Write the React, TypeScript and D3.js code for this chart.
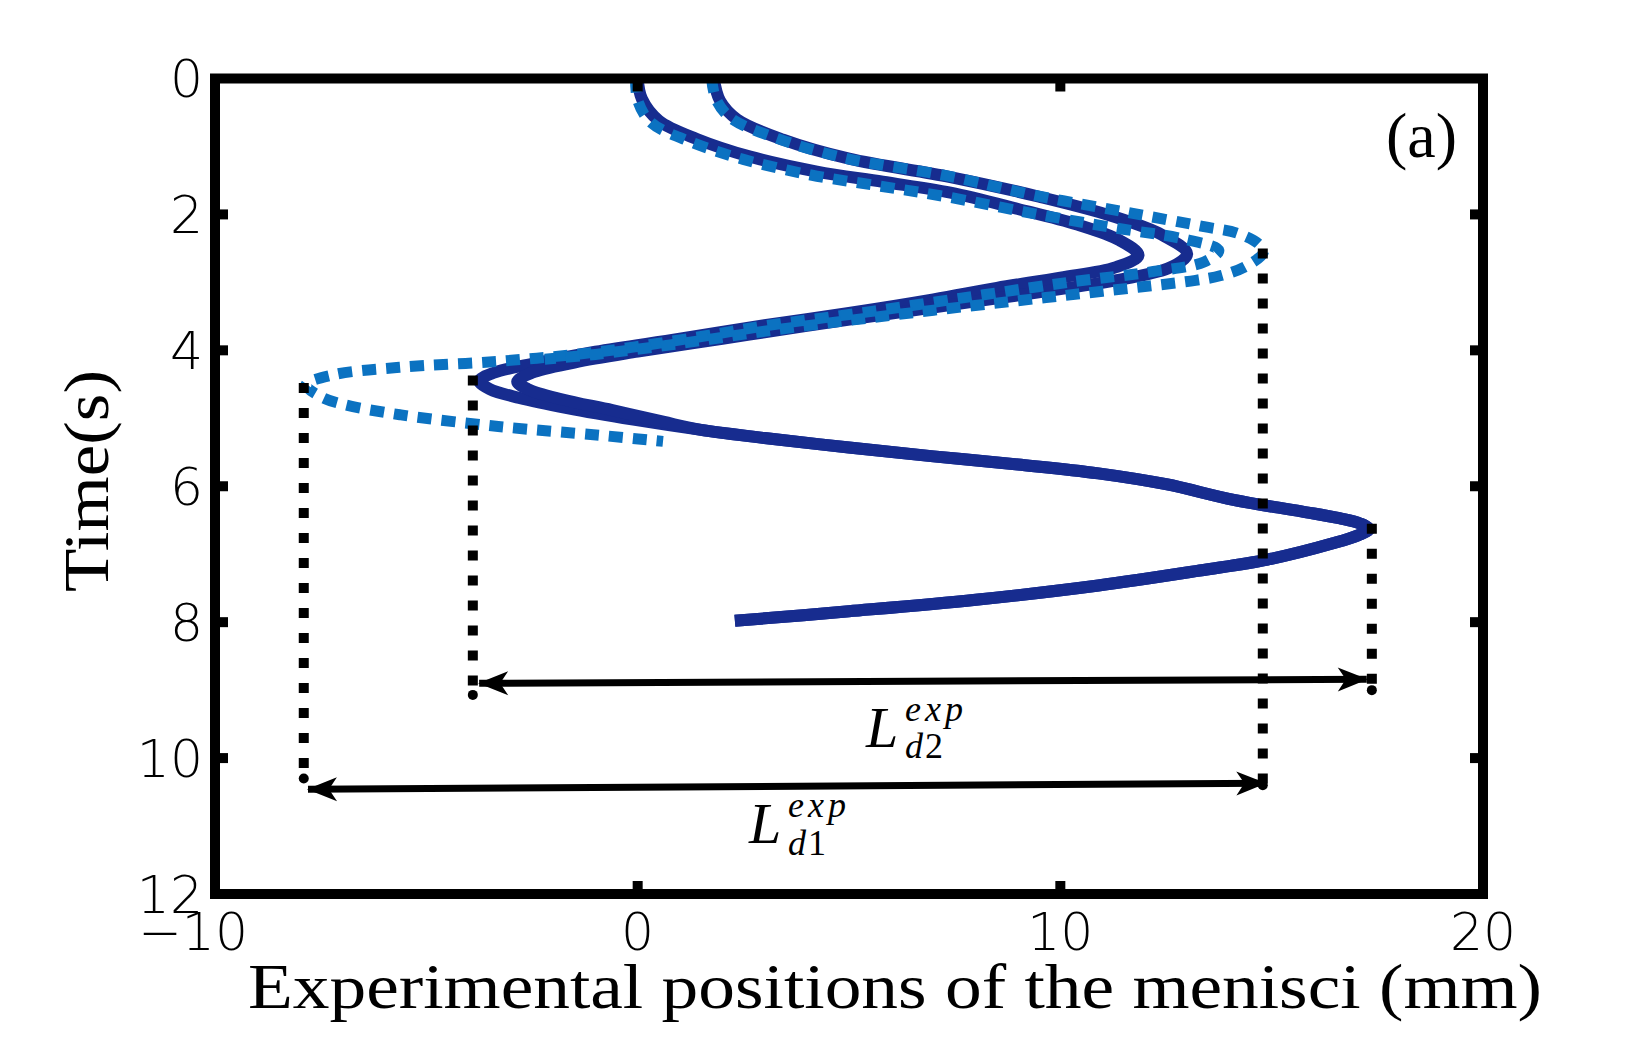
import { useEffect } from 'react';
import * as d3 from 'd3';

// meniscus positions [x (mm), time (s)]
const solidRear: [number, number][] = [
  [0.0, 0.0], [0.1, 0.3], [0.5, 0.62], [1.4, 0.89], [2.66, 1.15], [4.24, 1.37],
  [5.8, 1.52], [7.4, 1.68], [9.0, 1.92], [10.4, 2.15], [11.4, 2.38], [11.85, 2.6],
  [11.3, 2.78], [10.0, 2.93], [8.5, 3.08], [7.0, 3.25], [5.0, 3.45], [3.0, 3.63],
  [1.0, 3.83], [-1.0, 4.02], [-2.5, 4.2], [-3.4, 4.33], [-3.75, 4.45], [-3.5, 4.57],
  [-2.8, 4.7], [-1.67, 4.85], [-0.1, 5.02], [1.5, 5.17], [3.0, 5.29], [5.0, 5.43],
  [7.0, 5.56], [9.0, 5.68], [10.9, 5.81], [12.5, 5.97], [14.1, 6.2], [15.7, 6.37],
  [16.6, 6.47], [17.1, 6.55], [17.3, 6.63], [17.05, 6.72], [16.45, 6.84], [14.9, 7.08],
  [13.3, 7.24], [10.9, 7.46], [8.0, 7.67], [5.0, 7.84], [2.3, 7.98],
];

const solidFront: [number, number][] = [
  [1.8, 0.0], [1.95, 0.33], [2.35, 0.6], [3.44, 0.9], [5.0, 1.18], [7.4, 1.45],
  [9.5, 1.74], [11.2, 2.02], [12.4, 2.3], [13.0, 2.58], [12.6, 2.78], [11.5, 2.95],
  [10.0, 3.1], [8.0, 3.28], [6.0, 3.46], [4.0, 3.64], [2.0, 3.83], [0.0, 4.02],
  [-1.5, 4.18], [-2.5, 4.33], [-2.85, 4.46], [-2.6, 4.57], [-1.8, 4.72], [-0.6, 4.88],
  [0.6, 5.05], [1.5, 5.17], [3.0, 5.29], [5.0, 5.43], [7.0, 5.56], [9.0, 5.68],
  [10.9, 5.81], [12.5, 5.97], [14.1, 6.2], [15.7, 6.37], [16.6, 6.47], [17.1, 6.55],
  [17.3, 6.63], [17.05, 6.72], [16.45, 6.84], [14.9, 7.08], [13.3, 7.24], [10.9, 7.46],
  [8.0, 7.67], [5.0, 7.84], [2.3, 7.98],
];

const dashedRear: [number, number][] = [
  [-0.05, 0.0], [0.0, 0.32], [0.3, 0.64], [1.2, 0.92], [2.5, 1.19], [4.1, 1.42],
  [5.7, 1.58], [7.3, 1.74], [9.3, 1.98], [11.3, 2.2], [12.9, 2.36], [13.75, 2.53],
  [13.4, 2.7], [12.2, 2.84], [10.3, 2.99], [8.0, 3.2], [5.5, 3.43], [3.0, 3.64],
  [1.47, 3.8], [-0.9, 4.02], [-3.26, 4.16], [-5.63, 4.25], [-7.2, 4.36], [-7.85, 4.51],
  [-7.5, 4.68], [-7.0, 4.79], [-5.6, 4.95], [-3.3, 5.12], [-0.9, 5.25], [0.6, 5.34],
];

const dashedFront: [number, number][] = [
  [1.75, 0.0], [1.85, 0.3], [2.2, 0.58], [3.3, 0.88], [4.9, 1.17], [7.3, 1.43],
  [9.4, 1.72], [11.5, 1.96], [13.4, 2.18], [14.2, 2.28], [14.7, 2.44], [14.8, 2.56],
  [14.4, 2.76], [13.8, 2.9], [13.2, 2.97], [11.0, 3.13], [9.0, 3.27], [7.0, 3.41],
  [5.0, 3.56], [3.0, 3.72], [1.0, 3.9], [-1.0, 4.06], [-2.2, 4.13],
];

// dotted guides: [x, top time, bottom time]
const guides: [number, number, number][] = [
  [-7.9, 4.48, 10.3],
  [-3.9, 4.37, 9.07],
  [14.79, 2.5, 10.4],
  [17.37, 6.55, 9.0],
];

// double arrows: [x1, t1, x2, t2]
const arrows: [number, number, number, number][] = [
  [-3.75, 8.9, 17.25, 8.84],
  [-7.8, 10.46, 14.85, 10.37],
];

const xTicks = [-10, 0, 10, 20];
const yTicks = [0, 2, 4, 6, 8, 10, 12];

const W = 1636;
const H = 1063;
const SOLID = '#172c8f';
const DASHED = '#0b72c1';

const x = d3.scaleLinear().domain([-10, 20]).range([215, 1483]);
const y = d3.scaleLinear().domain([0, 12]).range([78.5, 894]);

const line = d3.line<[number, number]>()
  .x(d => x(d[0]))
  .y(d => y(d[1]))
  .curve(d3.curveCatmullRom.alpha(0.5));

const tickFont = '"DejaVu Sans", sans-serif';
const serif = '"Liberation Serif", "DejaVu Serif", serif';

export default function App() {
  useEffect(() => {
    document.body.style.margin = '0';
  }, []);

  const [x0, x1] = x.range();
  const [y0, y1] = y.range();

  return (
    <svg width={W} height={H} style={{ display: 'block', background: '#fff' }}>
      <defs>
        <marker id="head" markerUnits="userSpaceOnUse" markerWidth="44" markerHeight="34"
          refX="2" refY="0" viewBox="-34 -17 44 34" orient="auto-start-reverse">
          <path d="M3,0 L-27,-12 L-19,0 L-27,12 Z" fill="#000" />
        </marker>
      </defs>

      {/* curves */}
      <path d={line(solidRear) ?? ''} fill="none" stroke={SOLID} strokeWidth={12} strokeLinejoin="round" />
      <path d={line(solidFront) ?? ''} fill="none" stroke={SOLID} strokeWidth={12} strokeLinejoin="round" />
      <path d={line(dashedRear) ?? ''} fill="none" stroke={DASHED} strokeWidth={11} strokeDasharray="14 10" />
      <path d={line(dashedFront) ?? ''} fill="none" stroke={DASHED} strokeWidth={11} strokeDasharray="14 10" />

      {/* dotted guides */}
      {guides.map(([gx, t0, t1], i) => (
        <g key={`g${i}`}>
          <line x1={x(gx)} x2={x(gx)} y1={y(t0)} y2={y(t1)}
            stroke="#000" strokeWidth={10} strokeDasharray="10 15" />
          <circle cx={x(gx)} cy={y(t1)} r={5} fill="#000" />
        </g>
      ))}

      {/* length arrows */}
      {arrows.map(([ax1, at1, ax2, at2], i) => (
        <line key={`a${i}`} x1={x(ax1)} y1={y(at1)} x2={x(ax2)} y2={y(at2)}
          stroke="#000" strokeWidth={7}
          markerStart="url(#head)" markerEnd="url(#head)" />
      ))}

      {/* arrow labels */}
      <g fontFamily={serif} fontStyle="italic" fill="#000">
        <text x={866} y={747} fontSize={58}>L</text>
        <text x={905} y={721} fontSize={36} letterSpacing={4}>exp</text>
        <text x={905} y={758} fontSize={36} letterSpacing={2}>d<tspan fontStyle="normal">2</tspan></text>
        <text x={749} y={843} fontSize={58}>L</text>
        <text x={788} y={817} fontSize={36} letterSpacing={4}>exp</text>
        <text x={788} y={855} fontSize={36} letterSpacing={2}>d<tspan fontStyle="normal">1</tspan></text>
      </g>

      <text x={1386} y={157} fontFamily={serif} fontSize={64}>(a)</text>

      {/* frame and ticks */}
      <rect x={x0} y={y0} width={x1 - x0} height={y1 - y0} fill="none" stroke="#000" strokeWidth={10} />
      {xTicks.slice(1, -1).map(v => (
        <g key={`xt${v}`} stroke="#000" strokeWidth={10}>
          <line x1={x(v)} x2={x(v)} y1={y1} y2={y1 - 13} />
          <line x1={x(v)} x2={x(v)} y1={y0} y2={y0 + 13} />
        </g>
      ))}
      {yTicks.slice(1, -1).map(v => (
        <g key={`yt${v}`} stroke="#000" strokeWidth={10}>
          <line x1={x0} x2={x0 + 13} y1={y(v)} y2={y(v)} />
          <line x1={x1} x2={x1 - 13} y1={y(v)} y2={y(v)} />
        </g>
      ))}

      {/* tick labels */}
      <g fontFamily={tickFont} fontWeight={200} fontSize={52} fill="#000">
        {xTicks.map(v => (
          <text key={`xl${v}`} x={v < 0 ? x(v) + 33 : x(v)} y={950}
            textAnchor={v < 0 ? 'end' : 'middle'}>{v < 0 ? `\u2212${-v}` : v}</text>
        ))}
        {yTicks.map(v => (
          <text key={`yl${v}`} x={203} y={y(v)} dy="0.36em" textAnchor="end">{v}</text>
        ))}
      </g>

      {/* axis titles */}
      <text x={248} y={1008} fontFamily={serif} fontSize={63} textLength={1294}
        lengthAdjust="spacingAndGlyphs">Experimental positions of the menisci (mm)</text>
      <text transform="translate(108,592) rotate(-90)" fontFamily={serif} fontSize={63}
        textLength={222} lengthAdjust="spacingAndGlyphs">Time(s)</text>
    </svg>
  );
}
